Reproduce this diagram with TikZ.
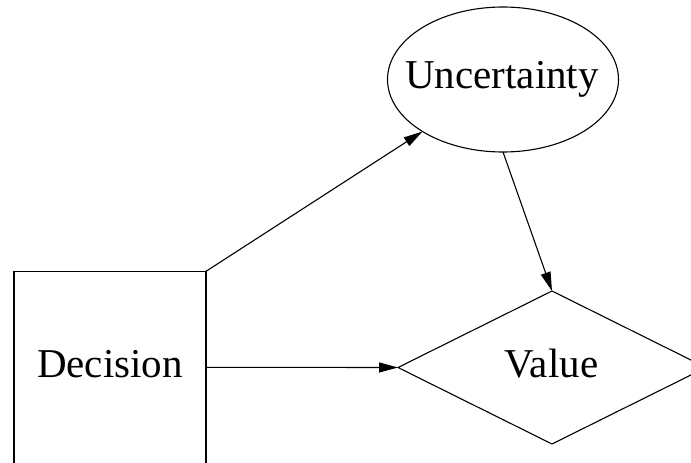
\documentclass[tikz,border=0pt]{standalone}
\usepackage{fontspec}
\setmainfont{Liberation Serif}
\usetikzlibrary{shapes.geometric,arrows.meta}
\begin{document}
\begin{tikzpicture}[x=1pt,y=1pt,
  shapeline/.style={draw=black,line width=1.1pt,inner sep=0pt,outer sep=0pt},
  decisionbox/.style={shapeline,rectangle,minimum width=192pt,minimum height=192pt},
  chancenode/.style={shapeline,ellipse,minimum width=231pt,minimum height=145pt},
  valuenode/.style={shapeline,diamond,minimum width=308pt,minimum height=153pt},
  caption/.style={anchor=base,inner sep=0pt,font=\fontsize{41}{49}\selectfont},
  link/.style={draw=black,line width=1.1pt,-{Triangle[length=19pt,width=10pt]}}]
  \useasboundingbox (0,0) rectangle (691,-463);
  % shapes (drawn empty, sizes fixed)
  \node[decisionbox] (d) at (110,-367.3) {};
  \node[chancenode] (u) at (503,-79.5) {};
  \node[valuenode] (v) at (552,-367.5) {};
  % captions, placed on their baselines
  \node[caption] (dt) at (110,-377) {Decision};
  \node[caption] (ut) at (502,-88) {Uncertainty};
  \node[caption] (vt) at (551.5,-377) {Value};
  % influence arcs
  \draw[link] (d.north east) -- (u);
  \draw[link] (d.east) -- (v.west);
  \draw[link] (u.south) -- (v.north);
\end{tikzpicture}
\end{document}
